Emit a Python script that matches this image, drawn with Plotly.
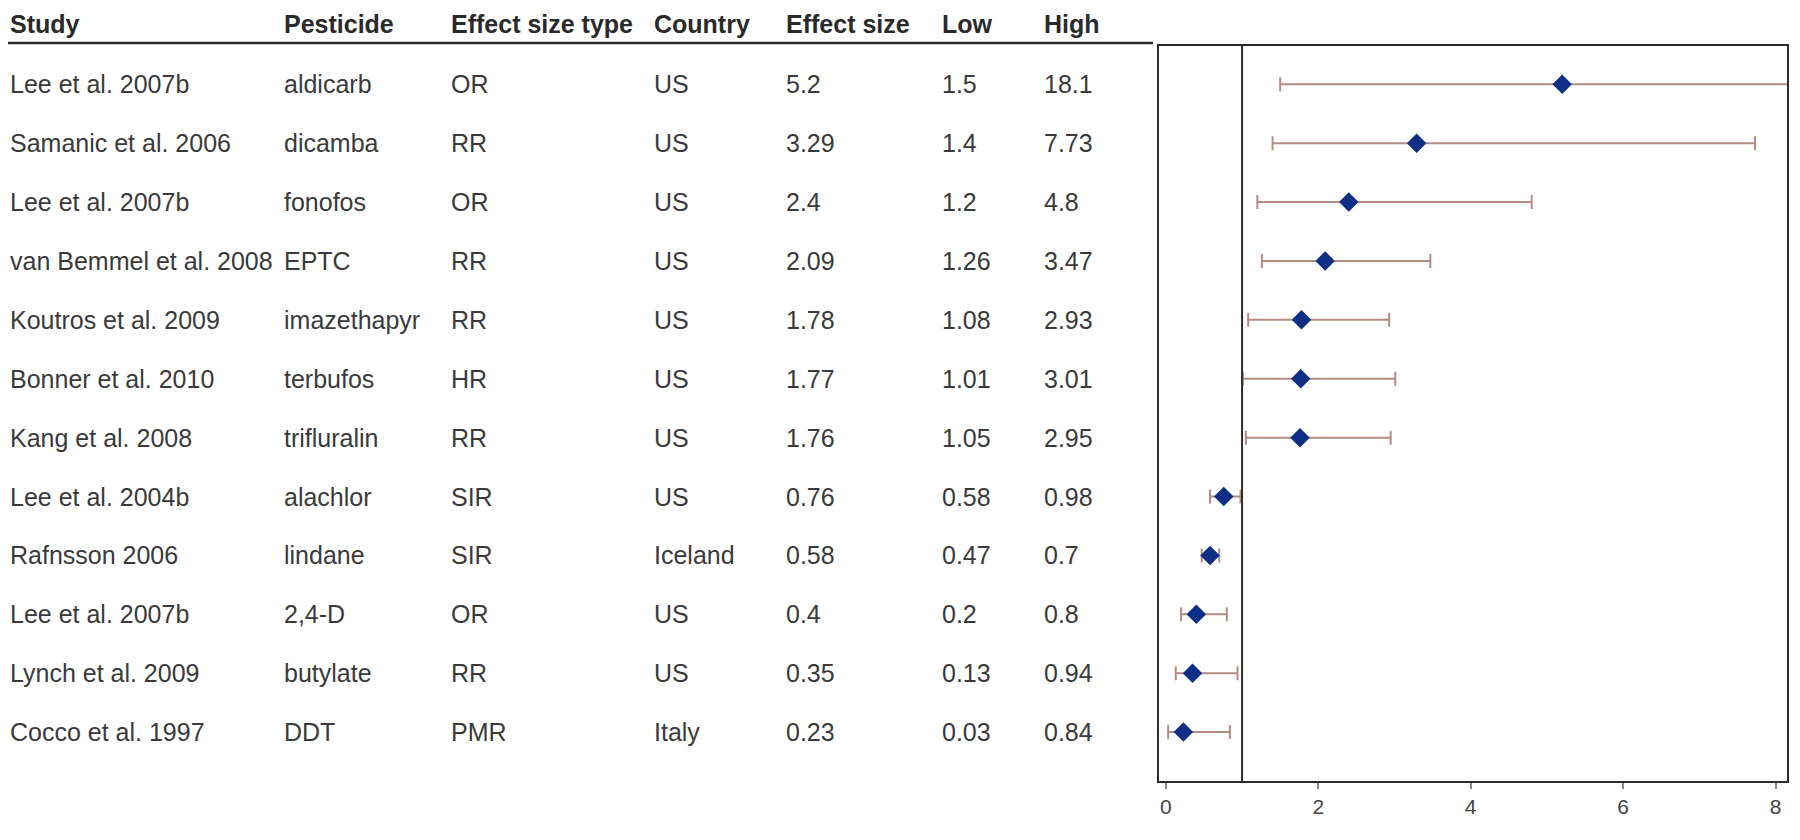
import plotly.graph_objects as go

studies = ["Lee et al. 2007b", "Samanic et al. 2006", "Lee et al. 2007b", "van Bemmel et al. 2008",
           "Koutros et al. 2009", "Bonner et al. 2010", "Kang et al. 2008", "Lee et al. 2004b",
           "Rafnsson 2006", "Lee et al. 2007b", "Lynch et al. 2009", "Cocco et al. 1997"]
pesticides = ["aldicarb", "dicamba", "fonofos", "EPTC", "imazethapyr", "terbufos", "trifluralin",
              "alachlor", "lindane", "2,4-D", "butylate", "DDT"]
effect_types = ["OR", "RR", "OR", "RR", "RR", "HR", "RR", "SIR", "SIR", "OR", "RR", "PMR"]
countries = ["US", "US", "US", "US", "US", "US", "US", "US", "Iceland", "US", "US", "Italy"]
effect = [5.2, 3.29, 2.4, 2.09, 1.78, 1.77, 1.76, 0.76, 0.58, 0.4, 0.35, 0.23]
low = [1.5, 1.4, 1.2, 1.26, 1.08, 1.01, 1.05, 0.58, 0.47, 0.2, 0.13, 0.03]
high = [18.1, 7.73, 4.8, 3.47, 2.93, 3.01, 2.95, 0.98, 0.7, 0.8, 0.94, 0.84]
headers = ["Study", "Pesticide", "Effect size type", "Country", "Effect size", "Low", "High"]
x_ticks = [0, 2, 4, 6, 8]

W, H = 1800, 840
n = len(studies)
ypos = [n - i for i in range(n)]

FONT = "Liberation Sans, Arial, sans-serif"
TXT = "#3a3a3a"
FS = 25

fig = go.Figure()
fig.add_trace(go.Scatter(
    x=effect, y=ypos, mode="markers",
    marker=dict(symbol="diamond", size=15, color="#0d2f86"),
    error_x=dict(type="data", symmetric=False,
                 array=[h - e for h, e in zip(high, effect)],
                 arrayminus=[e - l for e, l in zip(effect, low)],
                 color="#b48c84", thickness=2, width=7),
    showlegend=False, hoverinfo="skip",
))

# reference line at 1
fig.add_shape(type="line", xref="x", yref="y domain", x0=1, x1=1, y0=0, y1=1,
              line=dict(color="#2b2b2b", width=2))

# header underline
fig.add_shape(type="line", xref="paper", yref="paper", x0=0, x1=1145 / W,
              y0=1 - 35 / H, y1=1 - 35 / H, line=dict(color="#2b2b2b", width=2.5))

col_x = [0, 274, 441, 644, 776, 932, 1034]
columns = [studies, pesticides, effect_types, countries,
           [f"{v:g}" for v in effect], [f"{v:g}" for v in low], [f"{v:g}" for v in high]]

for cx, h in zip(col_x, headers):
    fig.add_annotation(x=cx / W, y=1 - 16 / H, xref="paper", yref="paper", text=f"<b>{h}</b>",
                       showarrow=False, xanchor="left", yanchor="middle",
                       font=dict(family=FONT, size=FS, color="#2a2a2a"))

for cx, col in zip(col_x, columns):
    for yv, t in zip(ypos, col):
        fig.add_annotation(x=cx / W, y=yv, xref="paper", yref="y", text=t,
                           showarrow=False, xanchor="left", yanchor="middle",
                           font=dict(family=FONT, size=FS, color=TXT))

fig.update_layout(
    width=W, height=H, margin=dict(l=0, r=0, t=0, b=0),
    paper_bgcolor="white", plot_bgcolor="white",
    xaxis=dict(domain=[1151 / W, 1779 / W], range=[-0.09, 8.15],
               tickvals=x_ticks, ticktext=[str(v) for v in x_ticks],
               ticks="outside", ticklen=6, tickcolor="#888", tickwidth=1.5,
               showgrid=False, zeroline=False,
               showline=True, linecolor="#2b2b2b", linewidth=2, mirror=True,
               tickfont=dict(family=FONT, size=21, color="#444")),
    yaxis=dict(domain=[1 - 773 / H, 1 - 38 / H], range=[0.17, 12.65],
               showticklabels=False, ticks="", showgrid=False, zeroline=False,
               showline=True, linecolor="#2b2b2b", linewidth=2, mirror=True),
)

fig.write_html("out.html")
